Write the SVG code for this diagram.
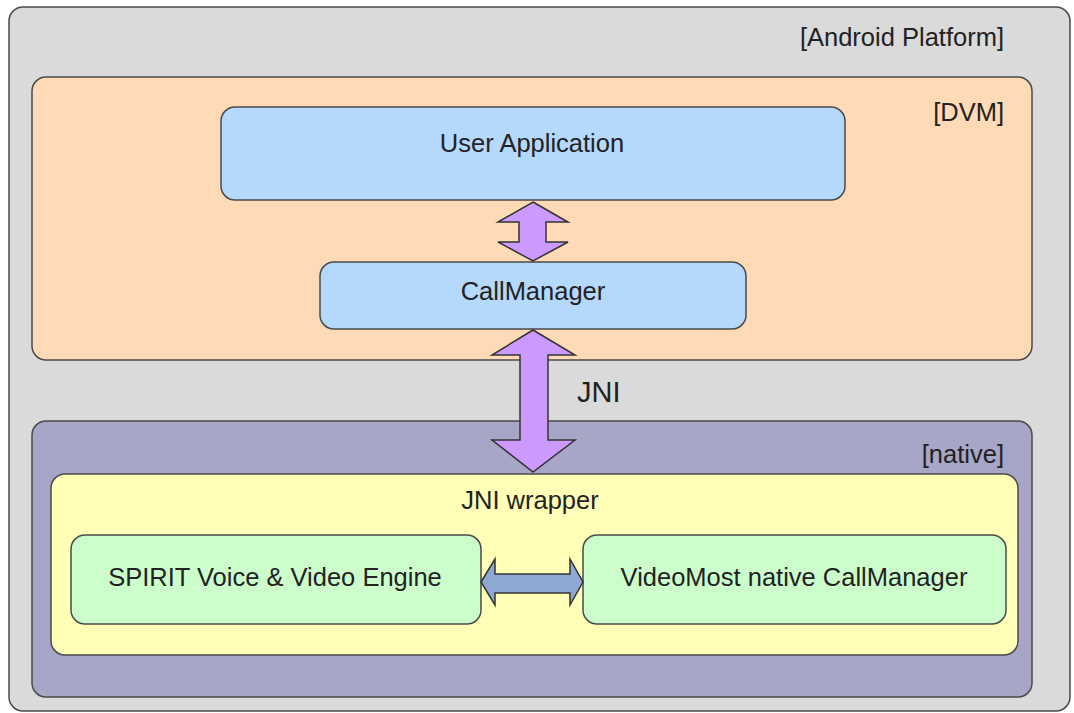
<svg xmlns="http://www.w3.org/2000/svg" width="1074" height="713" viewBox="0 0 1074 713">
<style>
.b{stroke:#4a4a4a;stroke-width:1.5}
.t{font-family:"Liberation Sans",Arial,sans-serif;font-size:25.5px;fill:#222}
.c{text-anchor:middle}
.r{text-anchor:end}
.a{stroke:#333;stroke-width:1.5;stroke-linejoin:miter}
</style>
<rect width="1074" height="713" fill="#fff"/>
<g id="android"><rect class="b" x="9" y="7" width="1061" height="704" rx="14" fill="#dadada"/><text class="t r" x="1004" y="46">[Android Platform]</text></g>
<g id="dvm"><rect class="b" x="32" y="77" width="1000" height="283" rx="14" fill="#fedab6"/><text class="t r" x="1004" y="121">[DVM]</text></g>
<g id="userapp"><rect class="b" x="221" y="107" width="624" height="93" rx="14" fill="#b5d8fd"/><text class="t c" x="532" y="152">User Application</text></g>
<g id="callmanager"><rect class="b" x="320" y="262" width="426" height="67" rx="14" fill="#b5d8fd"/><text class="t c" x="533" y="300">CallManager</text></g>
<g id="native"><rect class="b" x="32" y="421" width="1000" height="276" rx="14" fill="#a8a6c6"/><text class="t r" x="1004" y="463">[native]</text></g>
<g id="jniwrapper"><rect class="b" x="51" y="474" width="967" height="181" rx="14" fill="#ffffb8"/><text class="t c" x="530" y="509">JNI wrapper</text></g>
<g id="spirit"><rect class="b" x="71" y="535" width="410" height="89" rx="14" fill="#ccfecc"/><text class="t c" x="275" y="586">SPIRIT Voice &amp; Video Engine</text></g>
<g id="videomost"><rect class="b" x="583" y="535" width="423" height="89" rx="14" fill="#ccfecc"/><text class="t c" x="794" y="586">VideoMost native CallManager</text></g>
<g id="connectors">
<polygon class="a" fill="#cc99fe" points="533,202 568,222 546,222 546,242 568,242 533,261 498,242 519,242 519,222 498,222"/>
<polygon class="a" fill="#cc99fe" points="533,330 575,355 548,355 548,440 575,440 533,472 492,440 520,440 520,355 492,355"/>
<polygon class="a" fill="#8fa8d2" points="481,582 495,559 495,574 570,574 570,559 583,582 570,605 570,593 495,593 495,605"/>
<text class="t" x="577" y="402" style="font-size:29px">JNI</text>
</g>
</svg>
